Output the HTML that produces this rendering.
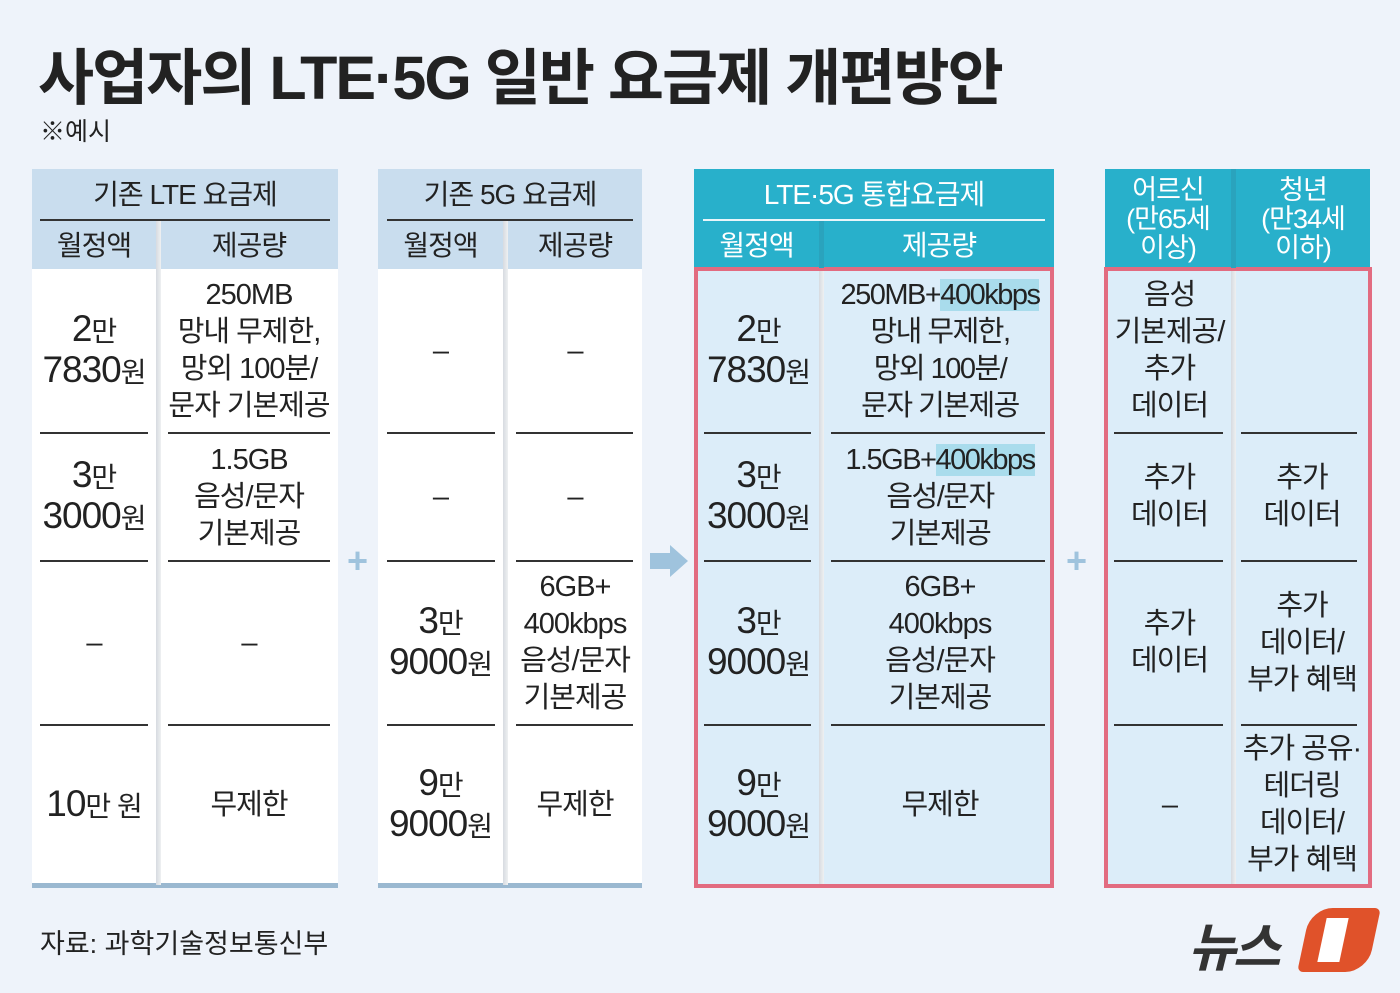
<!DOCTYPE html>
<html><head><meta charset="utf-8"><style>
*{margin:0;padding:0;box-sizing:border-box}
body{width:1400px;height:993px;background:#eef3fa;font-family:"Liberation Sans","Noto Sans CJK KR",sans-serif;color:#222;position:relative;overflow:hidden}
.a{position:absolute}
.c{position:absolute;display:flex;align-items:center;justify-content:center;text-align:center;font-size:29px;line-height:37px;letter-spacing:-1px}
.hl{background:#a9dcec}
.n{font-size:37px;line-height:37px}
.s{font-size:28px}
.ln{position:absolute;height:2px;background:#333}
.vs{position:absolute;width:5px;background:linear-gradient(90deg,#d7dbe0,#eef0f2)}
</style></head><body>
<div class="a" style="left:38px;top:28px;font-size:61px;font-weight:bold;letter-spacing:-2px">사업자의 LTE·5G 일반 요금제 개편방안</div>
<div class="a" style="left:40px;top:112px;font-size:25px">※예시</div>
<div class="a" style="left:40px;top:922px;font-size:27px">자료: 과학기술정보통신부</div>

<!-- table1 -->
<div class="a" style="left:32px;top:169px;width:306px;height:100px;background:#c9ddee"></div>
<div class="a" style="left:32px;top:269px;width:306px;height:616px;background:#fff"></div>
<div class="a" style="left:32px;top:883px;width:306px;height:5px;background:#9ab8d0"></div>
<div class="vs" style="left:156px;top:220px;height:665px"></div>
<div class="ln" style="left:40px;top:219px;width:290px"></div>
<div class="c" style="left:32px;top:169px;width:306px;height:50px;font-size:28px">기존 LTE 요금제</div>
<div class="c" style="left:32px;top:221px;width:124px;height:48px;font-size:28px">월정액</div>
<div class="c" style="left:160px;top:221px;width:178px;height:48px;font-size:28px">제공량</div>
<div class="ln" style="left:40px;top:432px;width:108px"></div><div class="ln" style="left:168px;top:432px;width:162px"></div>
<div class="ln" style="left:40px;top:560px;width:108px"></div><div class="ln" style="left:168px;top:560px;width:162px"></div>
<div class="ln" style="left:40px;top:724px;width:108px"></div><div class="ln" style="left:168px;top:724px;width:162px"></div>
<div class="c" style="left:32px;top:269px;width:124px;height:164px"><div><span class="n">2</span><span class="s">만</span><br><span class="n">7830</span><span class="s">원</span></div></div>
<div class="c" style="left:160px;top:269px;width:178px;height:164px"><div>250MB<br>망내 무제한,<br>망외 100분/<br>문자 기본제공</div></div>
<div class="c" style="left:32px;top:433px;width:124px;height:128px"><div><span class="n">3</span><span class="s">만</span><br><span class="n">3000</span><span class="s">원</span></div></div>
<div class="c" style="left:160px;top:433px;width:178px;height:128px"><div>1.5GB<br>음성/문자<br>기본제공</div></div>
<div class="c" style="left:32px;top:561px;width:124px;height:164px">–</div>
<div class="c" style="left:160px;top:561px;width:178px;height:164px">–</div>
<div class="c" style="left:32px;top:725px;width:124px;height:160px"><div><span class="n">10</span><span class="s">만 원</span></div></div>
<div class="c" style="left:160px;top:725px;width:178px;height:160px">무제한</div>

<!-- table2 -->
<div class="a" style="left:378px;top:169px;width:264px;height:100px;background:#c9ddee"></div>
<div class="a" style="left:378px;top:269px;width:264px;height:616px;background:#fff"></div>
<div class="a" style="left:378px;top:883px;width:264px;height:5px;background:#9ab8d0"></div>
<div class="vs" style="left:503px;top:220px;height:665px"></div>
<div class="ln" style="left:387px;top:219px;width:246px"></div>
<div class="c" style="left:378px;top:169px;width:264px;height:50px;font-size:28px">기존 5G 요금제</div>
<div class="c" style="left:378px;top:221px;width:125px;height:48px;font-size:28px">월정액</div>
<div class="c" style="left:508px;top:221px;width:134px;height:48px;font-size:28px">제공량</div>
<div class="ln" style="left:387px;top:432px;width:108px"></div><div class="ln" style="left:516px;top:432px;width:117px"></div>
<div class="ln" style="left:387px;top:560px;width:108px"></div><div class="ln" style="left:516px;top:560px;width:117px"></div>
<div class="ln" style="left:387px;top:724px;width:108px"></div><div class="ln" style="left:516px;top:724px;width:117px"></div>
<div class="c" style="left:378px;top:269px;width:125px;height:164px">–</div>
<div class="c" style="left:508px;top:269px;width:134px;height:164px">–</div>
<div class="c" style="left:378px;top:433px;width:125px;height:128px">–</div>
<div class="c" style="left:508px;top:433px;width:134px;height:128px">–</div>
<div class="c" style="left:378px;top:561px;width:125px;height:164px"><div><span class="n">3</span><span class="s">만</span><br><span class="n">9000</span><span class="s">원</span></div></div>
<div class="c" style="left:508px;top:561px;width:134px;height:164px"><div>6GB+<br>400kbps<br>음성/문자<br>기본제공</div></div>
<div class="c" style="left:378px;top:725px;width:125px;height:160px"><div><span class="n">9</span><span class="s">만</span><br><span class="n">9000</span><span class="s">원</span></div></div>
<div class="c" style="left:508px;top:725px;width:134px;height:160px">무제한</div>

<div class="a" style="left:347px;top:540px;font-size:36px;color:#9fc3dd;font-weight:bold">+</div>
<div class="a" style="left:650px;top:553px;width:20px;height:16px;background:#9fc3dd"></div>
<div class="a" style="left:670px;top:545px;width:0;height:0;border-top:16px solid transparent;border-bottom:16px solid transparent;border-left:18px solid #9fc3dd"></div>

<!-- table3 -->
<div class="a" style="left:694px;top:169px;width:360px;height:100px;background:#28b0cb"></div>
<div class="a" style="left:694px;top:267px;width:360px;height:621px;background:#dcedf9;border:4px solid #e26b80"></div>
<div class="vs" style="left:819px;top:220px;height:48px;background:#2aa3bd"></div>
<div class="vs" style="left:819px;top:271px;height:613px"></div>
<div class="a" style="left:703px;top:219px;width:342px;height:2px;background:#e8f6fa"></div>
<div class="c" style="left:694px;top:169px;width:360px;height:50px;font-size:28px;color:#fff">LTE·5G 통합요금제</div>
<div class="c" style="left:694px;top:221px;width:125px;height:48px;font-size:28px;color:#fff">월정액</div>
<div class="c" style="left:824px;top:221px;width:230px;height:48px;font-size:28px;color:#fff">제공량</div>
<div class="ln" style="left:704px;top:432px;width:107px"></div><div class="ln" style="left:831px;top:432px;width:214px"></div>
<div class="ln" style="left:704px;top:560px;width:107px"></div><div class="ln" style="left:831px;top:560px;width:214px"></div>
<div class="ln" style="left:704px;top:724px;width:107px"></div><div class="ln" style="left:831px;top:724px;width:214px"></div>
<div class="c" style="left:698px;top:269px;width:121px;height:164px"><div><span class="n">2</span><span class="s">만</span><br><span class="n">7830</span><span class="s">원</span></div></div>
<div class="c" style="left:824px;top:269px;width:232px;height:164px;letter-spacing:-1.5px"><div>250MB+<span class="hl">400kbps</span><br>망내 무제한,<br>망외 100분/<br>문자 기본제공</div></div>
<div class="c" style="left:698px;top:433px;width:121px;height:128px"><div><span class="n">3</span><span class="s">만</span><br><span class="n">3000</span><span class="s">원</span></div></div>
<div class="c" style="left:824px;top:433px;width:232px;height:128px;letter-spacing:-1.5px"><div>1.5GB+<span class="hl">400kbps</span><br>음성/문자<br>기본제공</div></div>
<div class="c" style="left:698px;top:561px;width:121px;height:164px"><div><span class="n">3</span><span class="s">만</span><br><span class="n">9000</span><span class="s">원</span></div></div>
<div class="c" style="left:824px;top:561px;width:232px;height:164px"><div>6GB+<br>400kbps<br>음성/문자<br>기본제공</div></div>
<div class="c" style="left:698px;top:725px;width:121px;height:160px"><div><span class="n">9</span><span class="s">만</span><br><span class="n">9000</span><span class="s">원</span></div></div>
<div class="c" style="left:824px;top:725px;width:232px;height:160px">무제한</div>

<div class="a" style="left:1066px;top:540px;font-size:36px;color:#9fc3dd;font-weight:bold">+</div>

<!-- table4 -->
<div class="a" style="left:1105px;top:169px;width:265px;height:100px;background:#28b0cb"></div>
<div class="a" style="left:1104px;top:267px;width:268px;height:621px;background:#dcedf9;border:4px solid #e26b80"></div>
<div class="vs" style="left:1231px;top:169px;height:99px;background:#2aa3bd"></div>
<div class="vs" style="left:1231px;top:271px;height:613px"></div>
<div class="c" style="left:1105px;top:172px;width:126px;height:94px;font-size:27px;line-height:29px;color:#fff"><div>어르신<br>(만65세<br>이상)</div></div>
<div class="c" style="left:1236px;top:172px;width:134px;height:94px;font-size:27px;line-height:29px;color:#fff"><div>청년<br>(만34세<br>이하)</div></div>
<div class="ln" style="left:1114px;top:432px;width:109px"></div><div class="ln" style="left:1241px;top:432px;width:116px"></div>
<div class="ln" style="left:1114px;top:560px;width:109px"></div><div class="ln" style="left:1241px;top:560px;width:116px"></div>
<div class="ln" style="left:1114px;top:724px;width:109px"></div><div class="ln" style="left:1241px;top:724px;width:116px"></div>
<div class="c" style="left:1108px;top:269px;width:123px;height:164px"><div>음성<br>기본제공/<br>추가<br>데이터</div></div>
<div class="c" style="left:1108px;top:433px;width:123px;height:128px"><div>추가<br>데이터</div></div>
<div class="c" style="left:1236px;top:433px;width:132px;height:128px"><div>추가<br>데이터</div></div>
<div class="c" style="left:1108px;top:561px;width:123px;height:164px"><div>추가<br>데이터</div></div>
<div class="c" style="left:1236px;top:561px;width:132px;height:164px"><div>추가<br>데이터/<br>부가 혜택</div></div>
<div class="c" style="left:1108px;top:725px;width:123px;height:160px">–</div>
<div class="c" style="left:1236px;top:725px;width:132px;height:160px"><div>추가 공유·<br>테더링<br>데이터/<br>부가 혜택</div></div>

<!-- logo -->
<div class="a" style="left:1188px;top:906px;font-size:52px;font-weight:bold;font-style:italic;color:#333;letter-spacing:-3px">뉴스</div>
<div class="a" style="left:1304px;top:908px;width:70px;height:64px;background:#e0522a;border-radius:22px 6px 22px 6px;transform:skewX(-12deg)"></div>
<div class="a" style="left:1322px;top:918px;width:22px;height:44px;background:#fff;transform:skewX(-12deg)"></div>
</body></html>
